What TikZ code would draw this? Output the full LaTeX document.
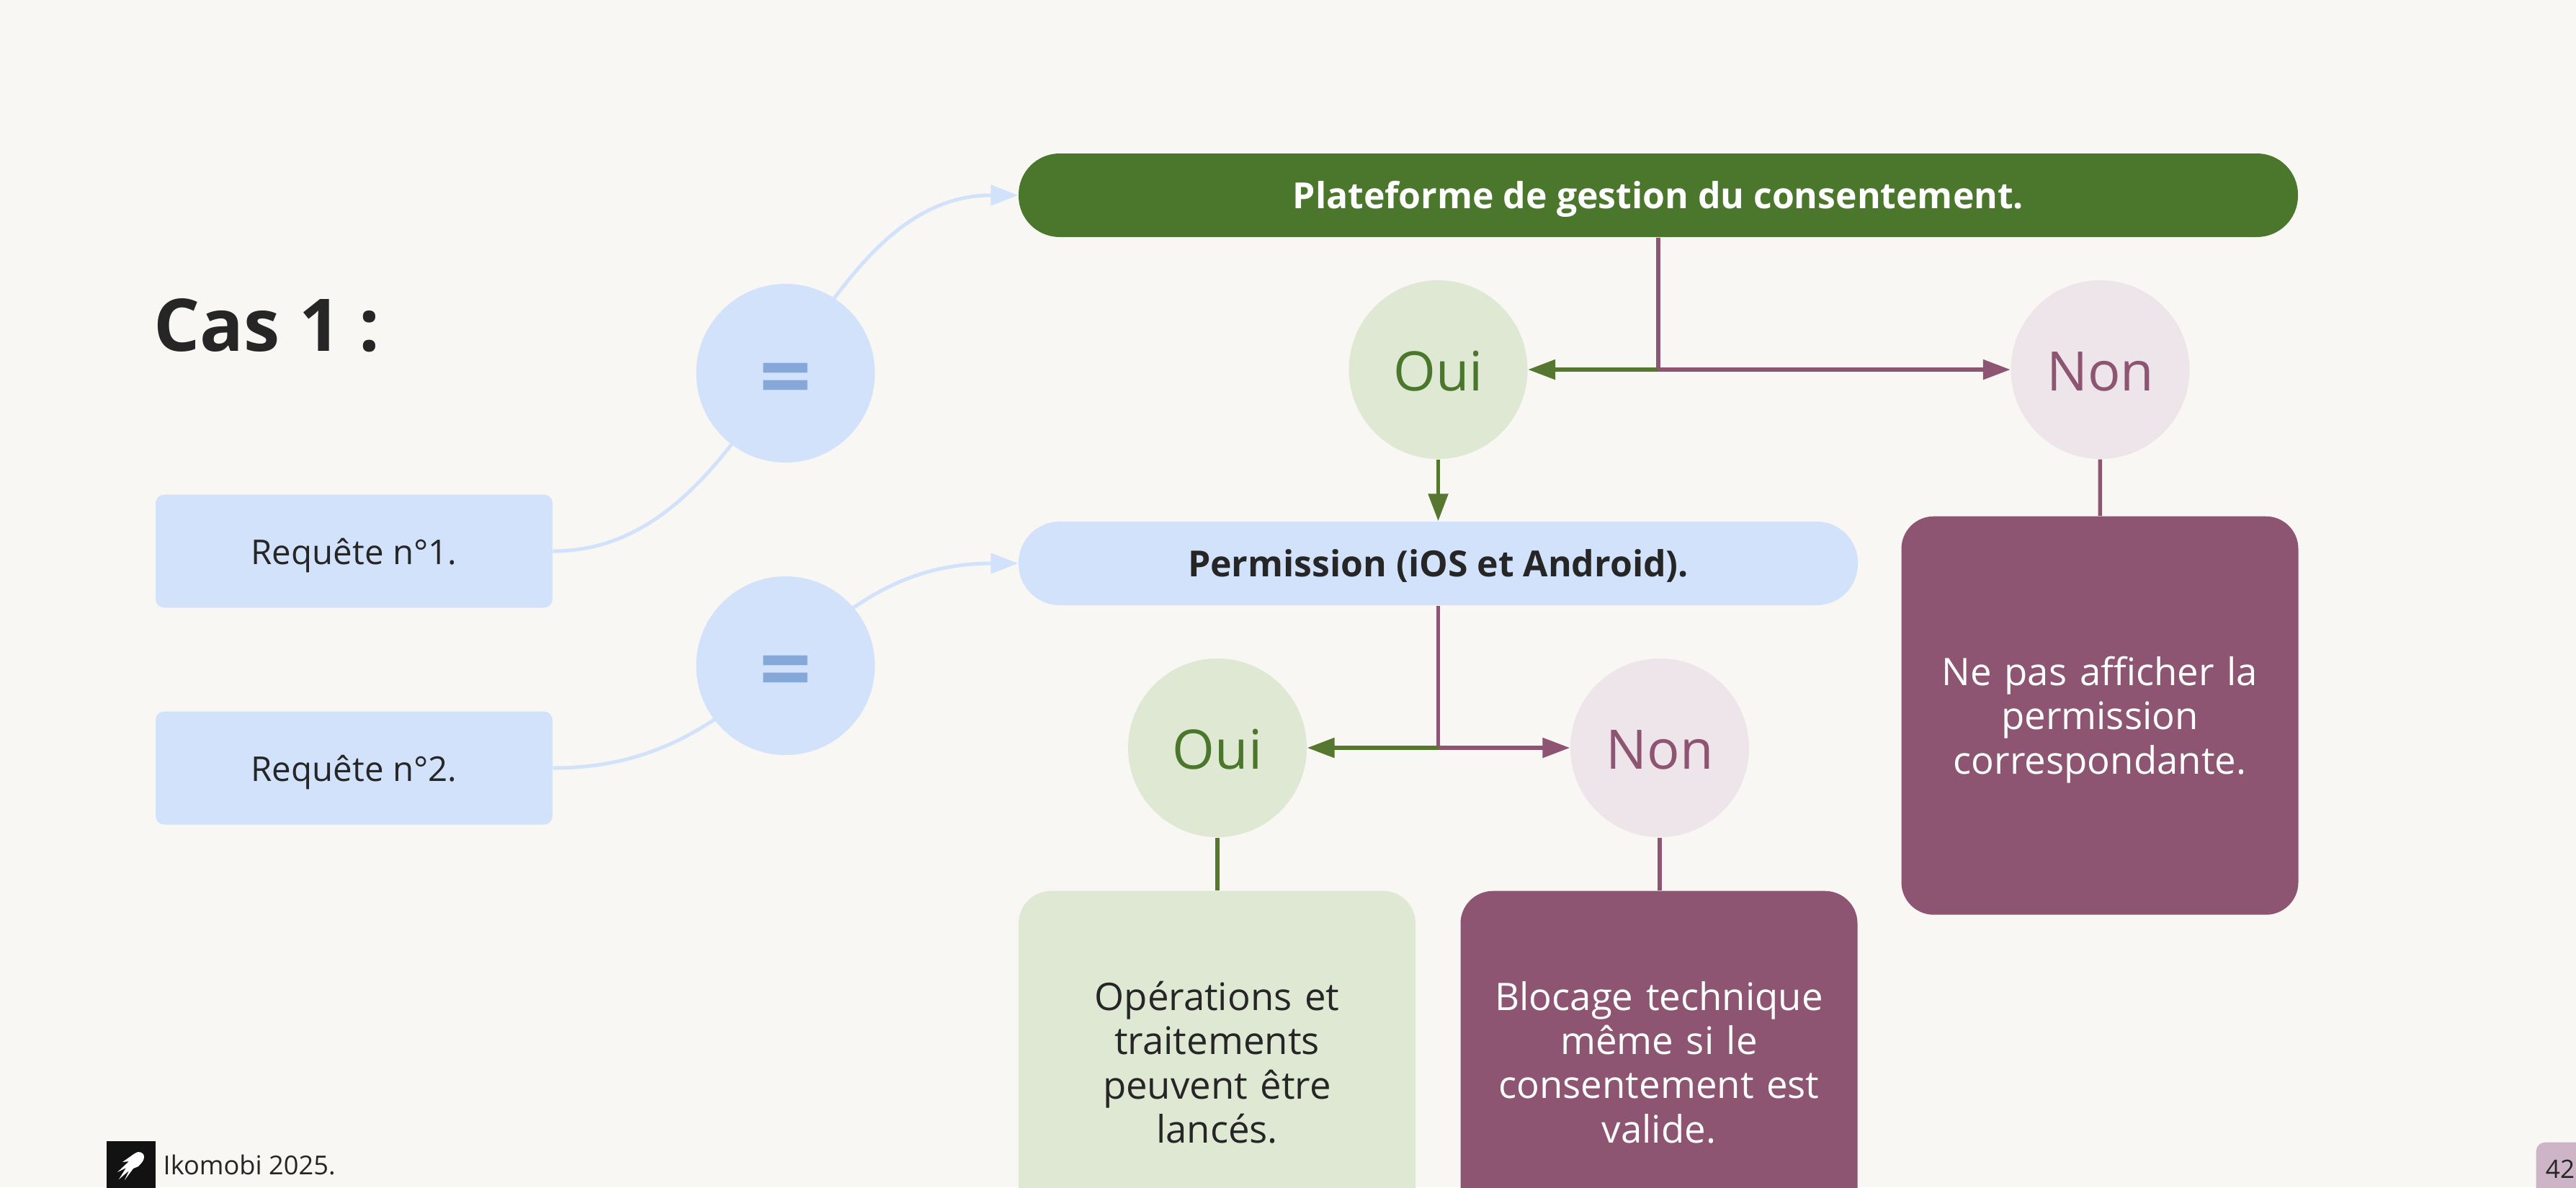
\documentclass[tikz,border=0pt]{standalone}
\usepackage{fontspec}
\setmainfont{Open Sans}
\usetikzlibrary{arrows.meta}
\definecolor{fond}{HTML}{F9F7F3}
\definecolor{vert}{HTML}{4B772D}
\definecolor{vertlien}{HTML}{55772F}
\definecolor{vertclair}{HTML}{DFE8D3}
\definecolor{bleu}{HTML}{D2E2FA}
\definecolor{bleumoyen}{HTML}{85A8D8}
\definecolor{prune}{HTML}{8E5572}
\definecolor{pruneclair}{HTML}{EDE5EA}
\definecolor{rose}{HTML}{CDB4C6}
\definecolor{encre}{HTML}{262626}
\tikzset{
	barre/.style={rounded corners=.57cm, minimum height=1.16cm, inner sep=0pt, text height=.4cm, text depth=.03cm, font=\fontsize{14.2}{17}\selectfont\bfseries},
	requete/.style={fill=bleu, rounded corners=.12cm, minimum width=5.51cm, minimum height=1.57cm, inner sep=0pt, text=encre, text height=.4cm, text depth=.03cm, font=\fontsize{13.5}{17}\selectfont},
	rond/.style={circle, minimum size=2.48cm, inner sep=0pt, text height=.58cm, text depth=0cm, font=\fontsize{21.5}{25}\selectfont},
	egal/.style={rond, fill=bleu, text=bleumoyen, text height=.98cm, font=\fontsize{36}{40}\selectfont\bfseries},
	boite/.style={rounded corners=.45cm, minimum width=5.51cm, inner sep=0pt, align=center, text width=5.2cm, font=\fontsize{15}{17.4}\selectfont},
	lienbleu/.style={line width=.05cm, bleu, -{Triangle[length=.38cm,width=.28cm]}},
	lienvert/.style={line width=.055cm, vertlien, -{Triangle[length=.38cm,width=.27cm]}},
	lienprune/.style={line width=.055cm, prune, -{Triangle[length=.38cm,width=.27cm]}},
}
\begin{document}
\begin{tikzpicture}[node distance=2cm]
	\useasboundingbox (0,0) rectangle (35.76,-16.48);
	\fill[fond] (0,0) rectangle (35.76,-16.48);
	\clip (0,0) rectangle (35.76,-16.48);
	\node(titre)[anchor=base west, inner sep=0pt, text=encre, font=\fontsize{28.7}{34}\selectfont\bfseries] at (2.13,-4.87){Cas 1 :};
	\node(requeteA)[requete] at (4.915,-7.65){Requête n°1.};
	\node(requeteB)[requete, below of=requeteA, node distance=3.01cm]{Requête n°2.};
	\node(plateforme)[barre, fill=vert, text=white, minimum width=17.76cm] at (23.02,-2.71){Plateforme de gestion du consentement.};
	\node(ouiA)[rond, fill=vertclair, text=vert] at (19.965,-5.13){Oui};
	\node(nonA)[rond, fill=pruneclair, text=prune, right of=ouiA, node distance=9.19cm]{Non};
	\node(permission)[barre, fill=bleu, text=encre, minimum width=11.65cm, below of=ouiA, node distance=2.69cm]{Permission (iOS et Android).};
	\node(ouiB)[rond, fill=vertclair, text=vert] at (16.9,-10.38){Oui};
	\node(nonB)[rond, fill=pruneclair, text=prune, right of=ouiB, node distance=6.14cm]{Non};
	\node(boiteA)[boite, fill=prune, text=white, anchor=north, minimum height=5.53cm] at (29.15,-7.16){\rule{0pt}{.52cm}Ne pas afficher la\\permission\\correspondante.};
	\node(boiteB)[boite, fill=vertclair, text=encre, anchor=north, minimum height=4.76cm] at (16.895,-12.36){Opérations et\\traitements\\peuvent être\\lancés.};
	\node(boiteC)[boite, fill=prune, text=white, anchor=north, minimum height=4.76cm] at (23.03,-12.36){Blocage technique\\même si le\\consentement est\\valide.};
	\draw[lienbleu](requeteA.east) to[out=0, in=180, looseness=.93](plateforme.west);
	\draw[lienbleu](requeteB.east) to[out=0, in=180, looseness=1.1](permission.west);
	\node(egalA)[egal] at (10.905,-5.18){=};
	\node(egalB)[egal] at (10.905,-9.24){=};
	\coordinate(jonctionA) at (plateforme.south |- ouiA);
	\coordinate(jonctionB) at (permission.south |- ouiB);
	\draw[lienprune, -](plateforme.south) to (jonctionA);
	\draw[lienvert](jonctionA) to (ouiA);
	\draw[lienprune](jonctionA) to (nonA);
	\draw[lienvert](ouiA) to (permission);
	\draw[lienprune, -](permission.south) to (jonctionB);
	\draw[lienvert](jonctionB) to (ouiB);
	\draw[lienprune](jonctionB) to (nonB);
	\draw[lienprune, -](nonA) to (boiteA);
	\draw[lienvert, -](ouiB) to (ouiB |- boiteB.north);
	\draw[lienprune, -](nonB) to (nonB |- boiteC.north);
	% pied de page
	\node(logo)[fill=black!93, minimum size=.68cm, inner sep=0pt, anchor=north west] at (1.47,-15.83){};
	\fill[white] (2,-16.06) .. controls (2,-15.99) and (1.92,-15.97) .. (1.87,-16.01) -- (1.7,-16.13) -- (1.79,-16.12) -- (1.63,-16.27) -- (1.75,-16.21) -- (1.65,-16.37) -- (1.79,-16.25) -- (1.73,-16.38) -- (1.85,-16.22) -- (1.92,-16.19) .. controls (1.96,-16.15) and (2,-16.11) .. (2,-16.06) -- cycle;
	\node(pied)[anchor=base west, inner sep=0pt, text=encre, font=\fontsize{10.3}{12}\selectfont] at (2.26,-16.3){Ikomobi 2025.};
	\node(numero)[fill=rose, rounded corners=.12cm, anchor=north west, minimum width=1cm, minimum height=1cm, inner sep=0pt] at (35.2,-15.85){};
	\node(page)[text=encre, inner sep=0pt, font=\fontsize{10}{12}\selectfont] at (35.54,-16.23){42};
\end{tikzpicture}
\end{document}
